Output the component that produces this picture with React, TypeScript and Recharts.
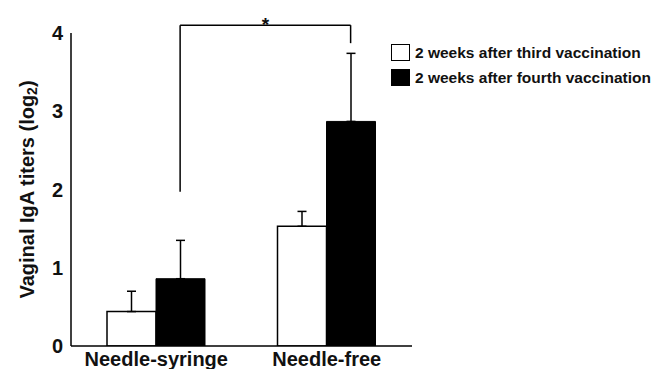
import {
  BarChart,
  Bar,
  XAxis,
  YAxis,
  ErrorBar,
  Legend,
  ReferenceLine,
} from "recharts";

const groups = ["Needle-syringe", "Needle-free"];
const seriesNames = [
  "2 weeks after third vaccination",
  "2 weeks after fourth vaccination",
];
const thirdValues = [0.44, 1.53];
const thirdErrors = [0.26, 0.19];
const fourthValues = [0.86, 2.87];
const fourthErrors = [0.49, 0.87];

const yTicks = [0, 1, 2, 3, 4];
const minorTicks = [0, 0.57, 1.14, 1.71, 2.29, 2.86, 3.43, 4];

// significance bracket between the two black bars (x as share of plot width)
const bracketX = [0.32, 0.82];
const bracketTop = 4.1;
const bracketBottoms = [1.97, 3.87];

const FONT = "'Liberation Sans', Arial, sans-serif";

const data = groups.map((group, i) => ({
  group,
  third: thirdValues[i],
  thirdErr: [0, thirdErrors[i]],
  fourth: fourthValues[i],
  fourthErr: [0, fourthErrors[i]],
}));

function LegendBox({ payload }: any) {
  const items = seriesNames
    .map((name) => (payload || []).find((p: any) => p.value === name))
    .filter(Boolean);
  return (
    <div style={{ fontFamily: FONT }}>
      {items.map((entry: any) => (
        <div
          key={entry.value}
          style={{ display: "flex", alignItems: "center", height: 25 }}
        >
          <span
            style={{
              display: "inline-block",
              width: 17,
              height: 15,
              border: "1.5px solid #000",
              background: entry.color,
            }}
          />
          <span
            style={{
              marginLeft: 5,
              fontSize: 15.5,
              fontWeight: "bold",
              color: "#111",
              whiteSpace: "nowrap",
            }}
          >
            {entry.value}
          </span>
        </div>
      ))}
    </div>
  );
}

function YTitle({ viewBox }: any) {
  const cx = viewBox.x + 27;
  const cy = viewBox.y + viewBox.height / 2;
  return (
    <text
      x={cx}
      y={cy}
      transform={`rotate(-90, ${cx}, ${cy})`}
      textAnchor="middle"
      dominantBaseline="central"
      fontFamily={FONT}
      fontWeight="bold"
      fontSize={20}
      fill="#111"
    >
      Vaginal IgA titers (log
      <tspan fontSize={14} dy={5}>
        2
      </tspan>
      <tspan dy={-5}>)</tspan>
    </text>
  );
}

export default function App() {
  return (
    <div style={{ position: "absolute", left: 0, top: 0, background: "#fff" }}>
      <BarChart
        width={658}
        height={369}
        data={data}
        margin={{ top: 33, right: 246, bottom: 0, left: 0 }}
        barGap={0}
        barSize={49}
      >
        <XAxis
          dataKey="group"
          height={23}
          axisLine={{ stroke: "#000", strokeWidth: 1.5 }}
          tickLine={false}
          tickSize={0}
          tickMargin={6}
          tick={{ fill: "#111", fontSize: 20, fontWeight: "bold", fontFamily: FONT }}
          interval={0}
        />
        <XAxis xAxisId="pos" type="number" domain={[0, 1]} hide allowDataOverflow />
        <YAxis
          width={71}
          domain={[0, 4]}
          ticks={yTicks}
          allowDataOverflow
          axisLine={{ stroke: "#000", strokeWidth: 1.5 }}
          tickLine={false}
          tick={{ fill: "#111", fontSize: 20, fontWeight: "bold", fontFamily: FONT }}
          label={{ content: YTitle }}
        />
        <YAxis
          yAxisId="minor"
          domain={[0, 4]}
          ticks={minorTicks}
          allowDataOverflow
          mirror
          axisLine={false}
          tick={false}
          tickSize={4}
          tickLine={{ stroke: "#000", strokeWidth: 1.2 }}
        />
        <Legend
          layout="vertical"
          align="center"
          verticalAlign="middle"
          wrapperStyle={{ left: 391, top: 40, width: 267 }}
          content={LegendBox}
        />
        <Bar
          dataKey="third"
          name={seriesNames[0]}
          fill="#fff"
          stroke="#000"
          strokeWidth={1.5}
          isAnimationActive={false}
        >
          <ErrorBar dataKey="thirdErr" width={4.5} stroke="#000" strokeWidth={1.5} direction="y" />
        </Bar>
        <Bar
          dataKey="fourth"
          name={seriesNames[1]}
          fill="#000"
          stroke="#000"
          strokeWidth={1}
          isAnimationActive={false}
        >
          <ErrorBar dataKey="fourthErr" width={4.5} stroke="#000" strokeWidth={1.5} direction="y" />
        </Bar>
        <ReferenceLine
          xAxisId="pos"
          ifOverflow="visible"
          stroke="#000"
          strokeWidth={1.5}
          segment={[
            { x: bracketX[0], y: bracketBottoms[0] },
            { x: bracketX[0], y: bracketTop },
          ]}
        />
        <ReferenceLine
          xAxisId="pos"
          ifOverflow="visible"
          stroke="#000"
          strokeWidth={1.5}
          segment={[
            { x: bracketX[0], y: bracketTop },
            { x: bracketX[1], y: bracketTop },
          ]}
          label={{
            value: "*",
            position: "top",
            offset: -6,
            fill: "#111",
            fontSize: 19,
            fontWeight: "bold",
            fontFamily: FONT,
          }}
        />
        <ReferenceLine
          xAxisId="pos"
          ifOverflow="visible"
          stroke="#000"
          strokeWidth={1.5}
          segment={[
            { x: bracketX[1], y: bracketBottoms[1] },
            { x: bracketX[1], y: bracketTop },
          ]}
        />
      </BarChart>
    </div>
  );
}
